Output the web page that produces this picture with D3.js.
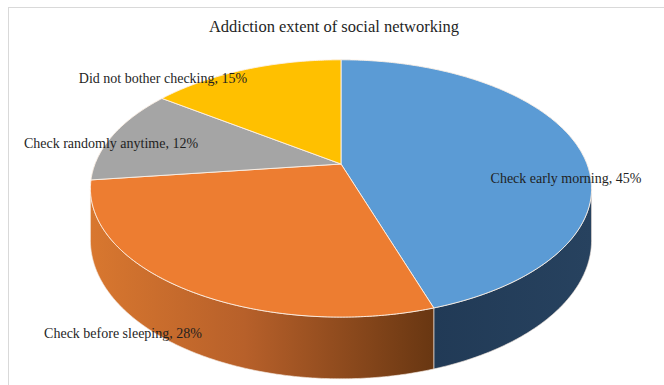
<!DOCTYPE html>
<html>
<head>
<meta charset="utf-8">
<script src="https://cdn.jsdelivr.net/npm/d3@7"></script>
<style>
  html, body { margin: 0; padding: 0; background: #fff; }
  svg { display: block; }
</style>
</head>
<body>
<svg id="chart" width="664" height="385"></svg>
<script>
// ---- data ----
const categories = ["Check early morning", "Check before sleeping", "Check randomly anytime", "Did not bother checking"];
const values = [45, 28, 12, 15];
const title = "Addiction extent of social networking";

// ---- styling / layout (not data) ----
const topColors = ["#5B9BD5", "#ED7D31", "#A5A5A5", "#FFC000"];
const labelAt = [[566, 178], [123, 333], [111, 143], [163, 78]];

const W = 664, H = 385;
const svg = d3.select("#chart");

svg.append("rect").attr("width", W).attr("height", H).attr("fill", "#fff");
svg.append("rect").attr("x", 8.5).attr("y", 7.5).attr("width", 700).attr("height", 420)
  .attr("fill", "none").attr("stroke", "#d9d9d9").attr("stroke-width", 1);

// perspective projection of a tilted disk
const X0 = 341, Y0 = 164, A = 246, B = 124, K = 0.19, D = 50;
function proj(theta, r, depth) {
  const s = 1 / (1 + K * r * Math.cos(theta));
  const u = r * Math.sin(theta), v = -r * Math.cos(theta);
  return [X0 + A * u * s, Y0 + B * v * s + depth * s];
}
function arcPts(a0, a1, r, depth) {
  const n = Math.max(2, Math.ceil(Math.abs(a1 - a0) / 0.01));
  const pts = [];
  for (let i = 0; i <= n; i++) pts.push(proj(a0 + (a1 - a0) * i / n, r, depth));
  return pts;
}

const pie = d3.pie().sort(null).value(d => d).startAngle(0).endAngle(2 * Math.PI);
const arcs = pie(values);

const defs = svg.append("defs");
const og = defs.append("linearGradient").attr("id", "gOrange")
  .attr("gradientUnits", "userSpaceOnUse").attr("x1", 92).attr("x2", 432).attr("y1", 0).attr("y2", 0);
og.append("stop").attr("offset", 0).attr("stop-color", "#D8772F");
og.append("stop").attr("offset", 0.45).attr("stop-color", "#B7602A");
og.append("stop").attr("offset", 1).attr("stop-color", "#693712");
const bg = defs.append("linearGradient").attr("id", "gBlue")
  .attr("gradientUnits", "userSpaceOnUse").attr("x1", 432).attr("x2", 592).attr("y1", 0).attr("y2", 0);
bg.append("stop").attr("offset", 0).attr("stop-color", "#213A56");
bg.append("stop").attr("offset", 1).attr("stop-color", "#27425F");
const wallFill = ["url(#gBlue)", "url(#gOrange)", "#5a5a5a", "#8a6a00"];

// visible front wall range
const vis0 = Math.acos(-K), vis1 = 2 * Math.PI - Math.acos(-K);
const line = d3.line();

const walls = svg.append("g");
arcs.forEach((a, i) => {
  const s0 = Math.max(a.startAngle, vis0), s1 = Math.min(a.endAngle, vis1);
  if (s1 <= s0) return;
  const topP = arcPts(s0, s1, 1, 0);
  const botP = arcPts(s1, s0, 1, D);
  walls.append("path")
    .attr("d", line(topP.concat(botP)) + "Z")
    .attr("fill", wallFill[i])
    .attr("stroke", "#f3e6dc").attr("stroke-width", 0.8).attr("stroke-opacity", 0.8)
    .attr("stroke-linejoin", "round");
});

const tops = svg.append("g");
arcs.forEach((a, i) => {
  const pts = [[X0, Y0]].concat(arcPts(a.startAngle, a.endAngle, 1, 0));
  tops.append("path")
    .attr("d", line(pts) + "Z")
    .attr("fill", topColors[i])
    .attr("stroke", "#fdf1e6").attr("stroke-width", 1).attr("stroke-opacity", 0.9)
    .attr("stroke-linejoin", "round");
});

// title
svg.append("text").attr("x", 334).attr("y", 32).attr("text-anchor", "middle")
  .attr("font-family", "'Liberation Serif', 'Times New Roman', serif").attr("font-size", 16.5)
  .attr("fill", "#1f1f1f").text(title);

// labels
const lbl = svg.append("g").attr("font-family", "'Liberation Serif', 'Times New Roman', serif")
  .attr("font-size", 14).attr("fill", "#1f1f1f");
arcs.forEach((a, i) => {
  lbl.append("text").attr("x", labelAt[i][0]).attr("y", labelAt[i][1])
    .attr("text-anchor", "middle").attr("dominant-baseline", "central")
    .text(categories[i] + ", " + values[i] + "%");
});
</script>
</body>
</html>
